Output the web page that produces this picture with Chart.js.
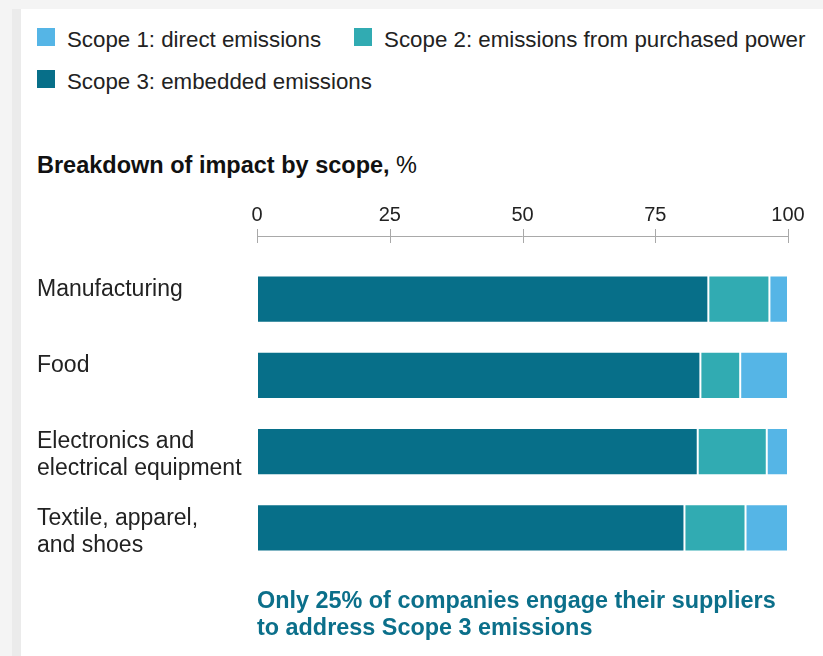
<!DOCTYPE html>
<html>
<head>
<meta charset="utf-8">
<script src="https://cdn.jsdelivr.net/npm/chart.js@4.4.1/dist/chart.umd.min.js"></script>
<style>
    html, body { margin: 0; padding: 0; }
    body { width: 823px; height: 656px; background: #f4f4f4; position: relative; overflow: hidden; font-family: "Liberation Sans", Arial, sans-serif; }
    .strip { position: absolute; left: 12px; top: 9px; width: 9px; bottom: 0; background: #ebebeb; }
    .card { position: absolute; left: 21px; top: 9px; right: 0; bottom: 0; background: #fff; }
    #leyenda { position: absolute; left: 37px; top: 19px; width: 775px; display: flex; flex-wrap: wrap; column-gap: 33px; }
    .item { height: 42px; line-height: 42px; font-size: 22.3px; color: #222; white-space: nowrap; }
    .caja { display: inline-block; width: 18px; height: 18px; margin-right: 12px; vertical-align: middle; position: relative; top: -4px; }
    #titulo { position: absolute; left: 37px; top: 152px; font-size: 23.5px; line-height: 27px; color: #111; }
    #titulo b { font-weight: bold; }
    #nota { position: absolute; left: 257px; top: 587px; font-size: 23.4px; line-height: 27px; font-weight: bold; color: #0b6f8a; }
    #lienzo { position: absolute; left: 0; top: 190px; width: 823px; height: 403px; }
</style>
</head>
<body>
<div class="strip"></div>
<div class="card"></div>
<div id="leyenda"></div>
<div id="titulo"><b>Breakdown of impact by scope,</b> %</div>
<div id="lienzo"><canvas id="grafica"></canvas></div>
<div id="nota">Only 25% of companies engage their suppliers<br>to address Scope 3 emissions</div>

<script>
const categorias = [
    ["Manufacturing", ""],
    ["Food", ""],
    ["Electronics and", "electrical equipment"],
    ["Textile, apparel,", "and shoes"]
];
const scope3 = [85, 83.5, 83, 80.5];
const scope2 = [11.5, 7.5, 13, 11.5];
const scope1 = [3.5, 9, 4, 8];
const ticksX = [0, 25, 50, 75, 100];

// orden de la leyenda (distinto al orden de apilado)
const series = [
    { nombre: "Scope 1: direct emissions", datos: scope1, color: "#55b5e6" },
    { nombre: "Scope 2: emissions from purchased power", datos: scope2, color: "#31abb2" },
    { nombre: "Scope 3: embedded emissions", datos: scope3, color: "#076f89" }
];

const leyenda = document.getElementById("leyenda");
series.forEach(s => {
    const item = document.createElement("div");
    item.className = "item";
    item.innerHTML = `<span class="caja" style="background:${s.color}"></span>${s.nombre}`;
    leyenda.appendChild(item);
});

// linea del eje superior con marcas que cruzan
const ejeSuperior = {
    id: "ejeSuperior",
    afterDraw(chart) {
        const ctx = chart.ctx;
        const x = chart.scales.x;
        const y = x.bottom - 25;
        ctx.save();
        ctx.strokeStyle = "#a9a9a9";
        ctx.lineWidth = 1;
        ctx.beginPath();
        ctx.moveTo(x.getPixelForValue(ticksX[0]), y + 0.5);
        ctx.lineTo(x.getPixelForValue(ticksX[ticksX.length - 1]), y + 0.5);
        ticksX.forEach(t => {
            const px = Math.round(x.getPixelForValue(t)) + 0.5;
            ctx.moveTo(px, y - 7);
            ctx.lineTo(px, y + 7);
        });
        ctx.stroke();
        ctx.restore();
    }
};

const ctx = document.getElementById("grafica").getContext("2d");

new Chart(ctx, {
    type: "bar",
    data: {
        labels: categorias,
        datasets: series.slice().reverse().map(s => ({
            label: s.nombre,
            data: s.datos,
            backgroundColor: s.color,
            borderColor: "rgba(255,255,255,0.25)",
            borderWidth: 1,
            borderSkipped: false,
            barPercentage: 1,
            categoryPercentage: 0.62
        }))
    },
    options: {
        indexAxis: "y",
        responsive: true,
        maintainAspectRatio: false,
        animation: false,
        layout: { padding: { left: 37, right: 35, top: 0, bottom: 0 } },
        plugins: {
            legend: { display: false },
            tooltip: { enabled: false }
        },
        scales: {
            x: {
                position: "top",
                stacked: true,
                min: 0,
                max: 100,
                afterBuildTicks: scale => { scale.ticks = ticksX.map(v => ({ value: v })); },
                afterFit: scale => { scale.height = 71; },
                // sin dibujar: solo separa las etiquetas del area
                grid: { display: false, drawTicks: true, tickLength: 34 },
                border: { display: false },
                ticks: {
                    padding: 0,
                    color: "#222",
                    font: { family: "Liberation Sans", size: 20 }
                }
            },
            y: {
                stacked: true,
                afterFit: scale => { scale.width = 220; },
                grid: { display: false, drawTicks: false },
                border: { display: false },
                ticks: {
                    padding: 0,
                    labelOffset: 4,
                    crossAlign: "far",
                    color: "#222",
                    font: { family: "Liberation Sans", size: 23, lineHeight: 1.18 }
                }
            }
        }
    },
    plugins: [ejeSuperior]
});
</script>
</body>
</html>
